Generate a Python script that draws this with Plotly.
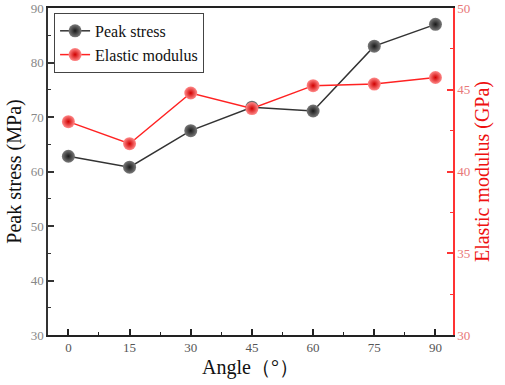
import plotly.graph_objects as go

angles = [0, 15, 30, 45, 60, 75, 90]
peak_stress = [62.8, 60.8, 67.5, 71.8, 71.1, 83.0, 87.0]
elastic_modulus = [43.05, 41.7, 44.8, 43.85, 45.25, 45.35, 45.75]

x_ticks = [0, 15, 30, 45, 60, 75, 90]
y1_ticks = [30, 40, 50, 60, 70, 80, 90]
y2_ticks = [30, 35, 40, 45, 50]

FONT = "Liberation Serif"

fig = go.Figure()
fig.add_trace(go.Scatter(
    x=angles, y=peak_stress, name="Peak stress", mode="lines+markers",
    line=dict(color="#333333", width=1.5),
    marker=dict(size=13, color="#7a7a7a", line=dict(width=0),
                gradient=dict(type="radial", color="#1a1a1a")),
))
fig.add_trace(go.Scatter(
    x=angles, y=elastic_modulus, name="Elastic modulus", mode="lines+markers",
    yaxis="y2",
    line=dict(color="#ff2222", width=1.5),
    marker=dict(size=13, color="#ff8a8a", line=dict(width=0),
                gradient=dict(type="radial", color="#d00000")),
))

fig.update_layout(
    width=505, height=385,
    margin=dict(l=48, r=52, t=8, b=50),
    paper_bgcolor="white", plot_bgcolor="white",
    font=dict(family=FONT),
    showlegend=True,
    legend=dict(x=0.015, y=0.985, xanchor="left", yanchor="top",
                bgcolor="white", bordercolor="#444444", borderwidth=1,
                font=dict(family=FONT, size=16, color="#111111"),
                tracegroupgap=0, itemwidth=30),
    xaxis=dict(
        automargin=False,
        range=[-5, 94.3], tickvals=x_ticks, ticks="inside", ticklen=6, tickwidth=1.5,
        tickcolor="#222222", showline=True, linecolor="#222222", linewidth=1.5,
        mirror=True, showgrid=False, zeroline=False,
        tickfont=dict(family=FONT, size=13, color="#555555"),
        minor=dict(dtick=7.5, tick0=0, ticks="inside", ticklen=3, tickcolor="#222222", tickwidth=1),
        title=dict(text="Angle（°）", font=dict(family=FONT, size=20, color="#111111"), standoff=6),
    ),
    yaxis=dict(
        automargin=False,
        range=[30, 90], tickvals=y1_ticks, ticks="inside", ticklen=6, tickwidth=1.5,
        tickcolor="#333333", showline=True, linecolor="#333333", linewidth=1.5,
        showgrid=False, zeroline=False,
        tickfont=dict(family=FONT, size=13, color="#888888"),
        minor=dict(dtick=5, tick0=30, ticks="inside", ticklen=3, tickcolor="#333333", tickwidth=1),
        title=dict(text="Peak stress (MPa)", font=dict(family=FONT, size=20, color="#111111"), standoff=4),
    ),
    yaxis2=dict(
        automargin=False,
        range=[30, 50], tickvals=y2_ticks, overlaying="y", side="right",
        ticks="inside", ticklen=6, tickwidth=1.5, tickcolor="#ff3333",
        showline=True, linecolor="#ff3333", linewidth=1.5,
        showgrid=False, zeroline=False,
        tickfont=dict(family=FONT, size=13, color="#e87878"),
        minor=dict(dtick=2.5, tick0=30, ticks="inside", ticklen=3, tickcolor="#ff3333", tickwidth=1),
        title=dict(text="Elastic modulus (GPa)", font=dict(family=FONT, size=20, color="#ee1111"), standoff=6),
    ),
)

fig.write_html("out.html", config={"displayModeBar": False},
               post_script="document.body.style.margin='0px';document.body.style.overflow='hidden';")
